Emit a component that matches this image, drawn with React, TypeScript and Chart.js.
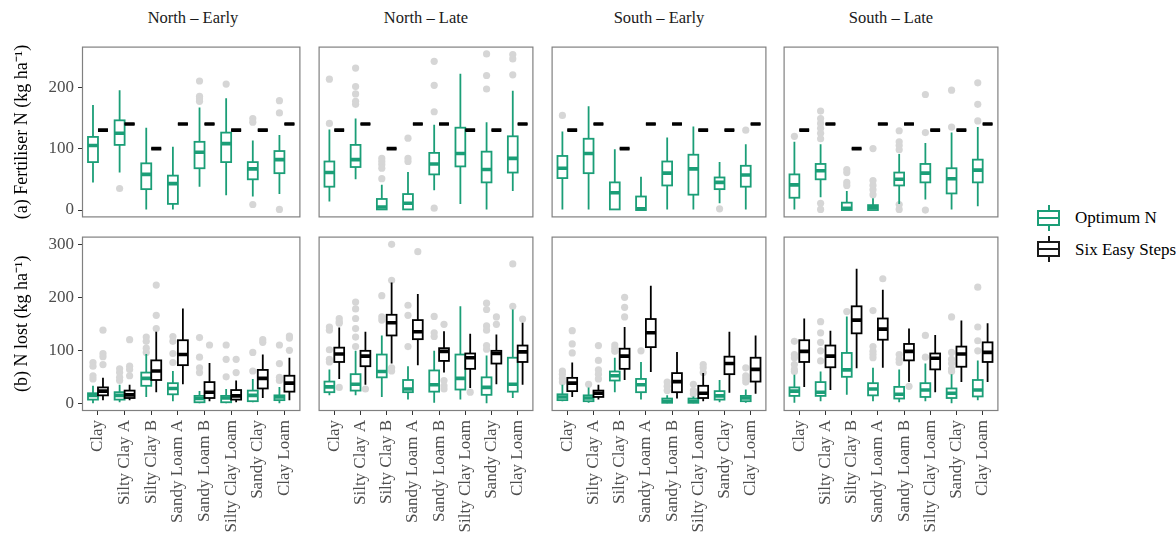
import React, { useEffect, useRef } from 'react';
import { Chart, registerables } from 'chart.js';

Chart.register(...registerables);

// ---------------- data ----------------
const categories = ['Clay', 'Silty Clay A', 'Silty Clay B', 'Sandy Loam A', 'Sandy Loam B', 'Silty Clay Loam', 'Sandy Clay', 'Clay Loam'];
const panelTitles = ['North – Early', 'North – Late', 'South – Early', 'South – Late'];
const seriesNames = ['Optimum N', 'Six Easy Steps'];
const fertTicks = [0, 100, 200];
const lostTicks = [0, 100, 200, 300];

// Boxes: [lower whisker, Q1, median, Q3, upper whisker]
// (a) Fertiliser N — Optimum N
const fertOptNE = [[45, 78, 105, 119, 171], [61, 106, 125, 146, 195], [1, 34, 58, 76, 134], [1, 10, 43, 56, 103], [38, 68, 94, 111, 167], [24, 78, 108, 126, 182], [22, 50, 67, 78, 113], [26, 60, 82, 96, 122]];
const fertOptNEOut = [[], [35], [], [], [210, 185, 181, 177], [205], [149, 143, 9], [178, 158, 1]];
const fertOptNL = [[14, 38, 61, 79, 131], [50, 70, 82, 106, 149], [1, 1, 5, 18, 41], [0, 1, 11, 26, 62], [32, 58, 75, 93, 139], [10, 71, 92, 134, 222], [1, 45, 66, 95, 143], [31, 61, 84, 120, 194]];
const fertOptNLOut = [[213, 141], [231, 201, 189, 177, 172], [84, 79, 74, 68, 51], [117, 84, 79], [242, 203, 160, 3], [], [254, 219, 197], [253, 246, 220]];
const fertOptSE = [[1, 52, 68, 88, 128], [1, 60, 92, 116, 169], [1, 1, 28, 45, 99], [0, 0, 2, 22, 54], [1, 40, 60, 79, 118], [1, 25, 67, 90, 136], [11, 34, 45, 53, 78], [1, 38, 57, 72, 107]];
const fertOptSEOut = [[154], [], [], [], [], [], [2], [130]];
const fertOptSL = [[1, 20, 41, 58, 111], [21, 50, 64, 75, 107], [0, 0, 3, 12, 31], [0, 0, 4, 8, 19], [10, 40, 50, 61, 91], [17, 45, 60, 75, 109], [1, 27, 51, 68, 126], [6, 45, 65, 82, 135]];
const fertOptSLOut = [[120], [161, 149, 141, 133, 125, 116, 11, 1], [66, 61, 45, 40], [100, 48, 40, 33, 25], [129, 111, 105, 98, 9, 1], [188, 126, 0], [195, 135], [207, 172, 145]];
// (a) Fertiliser N — Six Easy Steps (single recommended rate per soil)
const fertSesNE = [130, 140, 100, 140, 140, 130, 130, 140];
const fertSesNL = [130, 140, 100, 140, 140, 130, 130, 140];
const fertSesSE = [130, 140, 100, 140, 140, 130, 130, 140];
const fertSesSL = [130, 140, 100, 140, 140, 130, 130, 140];

// (b) N lost — Optimum N
const lostOptNE = [[0, 7, 15, 19, 33], [2, 7, 15, 21, 35], [12, 33, 47, 58, 93], [4, 17, 28, 38, 61], [0, 2, 9, 14, 23], [0, 2, 10, 14, 27], [2, 4, 15, 24, 46], [0, 6, 12, 15, 31]];
const lostOptNEOut = [[77, 70, 52, 46], [65, 58, 49, 43], [125, 117, 104, 96], [126, 117, 94, 77], [124, 87, 67, 58], [110, 83, 50], [96, 61], [110, 75, 49, 43]];
const lostOptNL = [[15, 21, 31, 41, 64], [15, 24, 36, 55, 99], [12, 49, 60, 92, 128], [7, 21, 27, 44, 70], [1, 22, 35, 62, 99], [7, 26, 47, 92, 183], [0, 16, 30, 49, 90], [10, 22, 36, 86, 177]];
const lostOptNLOut = [[144, 138, 101, 83, 78], [191, 178, 160, 141, 125, 107], [203, 163, 157], [185, 166, 107], [164, 133, 126], [], [189, 177, 146, 138, 109, 102], [263, 183]];
const lostOptSE = [[4, 6, 12, 17, 35], [1, 4, 10, 15, 30], [21, 43, 52, 60, 86], [7, 21, 35, 46, 78], [0, 1, 4, 9, 15], [0, 1, 4, 9, 13], [2, 7, 14, 23, 44], [1, 4, 10, 14, 26]];
const lostOptSEOut = [[61, 55, 47, 40], [36], [110, 104, 98], [99], [40, 32, 24], [36, 24, 18], [], [67, 52, 46, 40]];
const lostOptSL = [[1, 14, 23, 30, 54], [4, 14, 21, 40, 60], [16, 50, 63, 95, 164], [4, 15, 27, 38, 67], [2, 9, 17, 31, 64], [4, 12, 25, 38, 75], [0, 10, 19, 28, 55], [6, 13, 25, 44, 81]];
const lostOptSLOut = [[117, 92, 86, 73, 64, 60], [154, 133, 115, 99, 80], [173], [175, 107, 98, 92, 86], [92, 83, 77], [128, 87], [163, 96, 83, 75, 65, 60], [219, 144, 118, 99]];
// (b) N lost — Six Easy Steps
const lostSesNE = [[6, 15, 23, 30, 48], [6, 10, 16, 24, 35], [21, 44, 61, 81, 135], [36, 72, 92, 119, 179], [4, 10, 21, 40, 76], [2, 7, 14, 25, 43], [10, 28, 47, 63, 92], [6, 22, 38, 52, 86]];
const lostSesNEOut = [[138, 94, 88, 73], [120, 70, 64, 52], [223, 166, 141], [], [110], [83, 58], [120, 115], [127, 123, 100]];
const lostSesNL = [[46, 78, 93, 105, 143], [35, 70, 89, 99, 135], [75, 128, 152, 167, 228], [72, 121, 135, 157, 206], [58, 80, 98, 104, 136], [29, 65, 86, 94, 131], [36, 75, 94, 99, 130], [35, 78, 97, 109, 152]];
const lostSesNLOut = [[160, 154, 151, 30], [27], [300, 232, 67, 61], [286], [149, 43, 33, 27], [21], [163, 149], [159]];
const lostSesSE = [[12, 23, 38, 48, 77], [7, 12, 19, 24, 35], [44, 65, 89, 103, 144], [59, 106, 133, 159, 222], [9, 21, 41, 57, 97], [4, 10, 19, 33, 57], [20, 55, 75, 88, 135], [18, 41, 64, 86, 128]];
const lostSesSEOut = [[137, 112, 95], [109, 81, 63, 55, 46], [200, 181, 163], [], [], [73, 67, 58], [], []];
const lostSesSL = [[31, 78, 98, 119, 160], [25, 68, 89, 109, 137], [66, 132, 157, 183, 254], [67, 120, 140, 160, 214], [40, 81, 98, 112, 141], [21, 64, 85, 94, 129], [40, 69, 93, 107, 156], [40, 78, 96, 115, 151]];
const lostSesSLOut = [[], [], [], [235], [32], [], [], []];

// ---------------- style / layout ----------------
const FONT = "'Liberation Serif', 'Times New Roman', Times, serif";
const GREEN = '#1b9e77';
const BLACK = '#000000';
const OUTLIER = '#d6d6d6';
const TICK_TEXT = '#4d4d4d';
const TICK_LINE = '#333333';
const BORDER = '#808080';

const PLOT_L = [82, 315, 548, 780];
const PLOT_W = 222;
const ROW_T = [43, 233];
const PLOT_H = 178;
const YAXIS_W = 82;
const XAXIS_H = 123;
const DODGE = 0.1875;
const HALF_BOX = 0.1875;

type Group = { color: string; offset: number; boxes: number[][]; outliers: number[][] };

const boxPlugin = {
  id: 'boxplotDraw',
  afterDatasetsDraw(chart: any, _args: any, opts: any) {
    const { ctx, chartArea, scales } = chart;
    const xs = scales.x;
    const ys = scales.y;
    ctx.save();
    ctx.beginPath();
    ctx.rect(chartArea.left, chartArea.top, chartArea.width, chartArea.height);
    ctx.clip();
    (opts.groups as Group[]).forEach((g) => {
      g.boxes.forEach((b, i) => {
        const cx = xs.getPixelForValue(i + 1 + g.offset);
        const hw = xs.getPixelForValue(i + 1 + g.offset + HALF_BOX) - cx;
        const [lo, q1, med, q3, hi] = b.map((v) => ys.getPixelForValue(v));
        ctx.strokeStyle = g.color;
        ctx.lineWidth = 1.8;
        ctx.beginPath();
        ctx.moveTo(cx, hi);
        ctx.lineTo(cx, q3);
        ctx.moveTo(cx, q1);
        ctx.lineTo(cx, lo);
        ctx.stroke();
        ctx.fillStyle = '#ffffff';
        ctx.fillRect(cx - hw, q3, 2 * hw, q1 - q3);
        ctx.strokeRect(cx - hw, q3, 2 * hw, q1 - q3);
        ctx.lineWidth = 3.6;
        ctx.beginPath();
        ctx.moveTo(cx - hw, med);
        ctx.lineTo(cx + hw, med);
        ctx.stroke();
      });
    });
    ctx.restore();
  },
  afterDraw(chart: any) {
    const { ctx, chartArea } = chart;
    ctx.save();
    ctx.strokeStyle = BORDER;
    ctx.lineWidth = 1.2;
    ctx.strokeRect(chartArea.left + 0.5, chartArea.top + 0.5, chartArea.width - 1, chartArea.height - 1);
    ctx.restore();
  },
};

type PanelProps = {
  row: number;
  col: number;
  groups: Group[];
};

function Panel({ row, col, groups }: PanelProps) {
  const ref = useRef<HTMLCanvasElement | null>(null);
  const showY = col === 0;
  const showX = row === 1;
  const left = showY ? 0 : PLOT_L[col];
  const top = ROW_T[row];
  const width = PLOT_W + (showY ? YAXIS_W : 0);
  const height = PLOT_H + (showX ? XAXIS_H : 0);

  useEffect(() => {
    if (!ref.current) return;
    const yTicks = row === 0 ? fertTicks : lostTicks;
    const points: { x: number; y: number }[] = [];
    groups.forEach((g) => {
      g.outliers.forEach((list, i) => {
        list.forEach((v) => points.push({ x: i + 1 + g.offset, y: v }));
      });
    });
    const xScale: any = {
      type: 'linear',
      min: 0.4,
      max: 8.6,
      display: showX,
      afterBuildTicks: (s: any) => {
        s.ticks = categories.map((_, i) => ({ value: i + 1 }));
      },
      ticks: {
        autoSkip: false,
        minRotation: 90,
        maxRotation: 90,
        padding: 5,
        color: TICK_TEXT,
        font: { family: FONT, size: 17 },
        callback: (v: number) => categories[Math.round(v) - 1] ?? '',
      },
      grid: { display: true, drawOnChartArea: false, drawTicks: true, tickLength: 4, color: TICK_LINE, lineWidth: 1 },
      border: { display: false },
    };
    if (showX) {
      xScale.afterFit = (s: any) => {
        s.height = XAXIS_H;
        s.paddingLeft = 0;
        s.paddingRight = 0;
      };
    }
    const yScale: any = {
      type: 'linear',
      min: row === 0 ? -12 : -14.5,
      max: row === 0 ? 266 : 314.5,
      display: showY,
      afterBuildTicks: (s: any) => {
        s.ticks = yTicks.map((v) => ({ value: v }));
      },
      ticks: { padding: 4, color: TICK_TEXT, font: { family: FONT, size: 17 } },
      grid: { display: true, drawOnChartArea: false, drawTicks: true, tickLength: 4, color: TICK_LINE, lineWidth: 1 },
      border: { display: false },
      title: {
        display: true,
        text: row === 0 ? '(a) Fertiliser N (kg ha⁻¹)' : '(b) N lost (kg ha⁻¹)',
        color: '#000000',
        font: { family: FONT, size: 18 },
        padding: { top: 11, bottom: 0 },
      },
    };
    if (showY) {
      yScale.afterFit = (s: any) => {
        s.width = YAXIS_W;
        s.paddingTop = 0;
        s.paddingBottom = 0;
      };
    }
    const chart = new Chart(ref.current, {
      type: 'scatter',
      data: {
        datasets: [
          {
            data: points,
            pointRadius: 3.6,
            pointBackgroundColor: OUTLIER,
            pointBorderWidth: 0,
            pointHoverRadius: 3.6,
          } as any,
        ],
      },
      options: {
        animation: false,
        responsive: false,
        maintainAspectRatio: false,
        events: [],
        layout: { padding: 0 },
        scales: { x: xScale, y: yScale },
        plugins: {
          legend: { display: false },
          tooltip: { enabled: false },
          boxplotDraw: { groups },
        } as any,
      },
      plugins: [boxPlugin],
    });
    return () => chart.destroy();
  }, []);

  return (
    <canvas
      ref={ref}
      width={width}
      height={height}
      style={{ position: 'absolute', left, top, width, height }}
    />
  );
}

const toConstBoxes = (vals: number[]) => vals.map((v) => [v, v, v, v, v]);
const noOutliers = categories.map(() => [] as number[]);

const fertOpt = [fertOptNE, fertOptNL, fertOptSE, fertOptSL];
const fertOptOut = [fertOptNEOut, fertOptNLOut, fertOptSEOut, fertOptSLOut];
const fertSes = [fertSesNE, fertSesNL, fertSesSE, fertSesSL];
const lostOpt = [lostOptNE, lostOptNL, lostOptSE, lostOptSL];
const lostOptOut = [lostOptNEOut, lostOptNLOut, lostOptSEOut, lostOptSLOut];
const lostSes = [lostSesNE, lostSesNL, lostSesSE, lostSesSL];
const lostSesOut = [lostSesNEOut, lostSesNLOut, lostSesSEOut, lostSesSLOut];

function LegendKey({ color, top }: { color: string; top: number }) {
  return (
    <div style={{ position: 'absolute', left: 1037, top, width: 23, height: 26 }}>
      <div style={{ position: 'absolute', left: 10.5, top: 0, width: 2, height: 26, background: color }} />
      <div style={{ position: 'absolute', left: 0, top: 5, width: 23, height: 16, boxSizing: 'border-box', border: `2px solid ${color}`, background: '#fff' }} />
      <div style={{ position: 'absolute', left: 0, top: 12, width: 23, height: 2, background: color }} />
    </div>
  );
}

export default function App() {
  return (
    <div style={{ position: 'absolute', left: 0, top: 0, width: 1176, height: 534, background: '#ffffff', fontFamily: FONT }}>
      {panelTitles.map((t, c) => (
        <div
          key={t}
          style={{ position: 'absolute', left: PLOT_L[c], top: 8, width: PLOT_W, textAlign: 'center', fontSize: 16.5, lineHeight: '20px', color: '#1a1a1a' }}
        >
          {t}
        </div>
      ))}
      {panelTitles.map((t, c) => (
        <Panel
          key={'a' + t}
          row={0}
          col={c}
          groups={[
            { color: GREEN, offset: -DODGE, boxes: fertOpt[c], outliers: fertOptOut[c] },
            { color: BLACK, offset: DODGE, boxes: toConstBoxes(fertSes[c]), outliers: noOutliers },
          ]}
        />
      ))}
      {panelTitles.map((t, c) => (
        <Panel
          key={'b' + t}
          row={1}
          col={c}
          groups={[
            { color: GREEN, offset: -DODGE, boxes: lostOpt[c], outliers: lostOptOut[c] },
            { color: BLACK, offset: DODGE, boxes: lostSes[c], outliers: lostSesOut[c] },
          ]}
        />
      ))}
      <LegendKey color={GREEN} top={205} />
      <div style={{ position: 'absolute', left: 1075, top: 208, fontSize: 17, lineHeight: '20px', color: '#000', whiteSpace: 'nowrap' }}>{seriesNames[0]}</div>
      <LegendKey color={'#1a1a1a'} top={236} />
      <div style={{ position: 'absolute', left: 1075, top: 240, fontSize: 17, lineHeight: '20px', color: '#000', whiteSpace: 'nowrap' }}>{seriesNames[1]}</div>
    </div>
  );
}
